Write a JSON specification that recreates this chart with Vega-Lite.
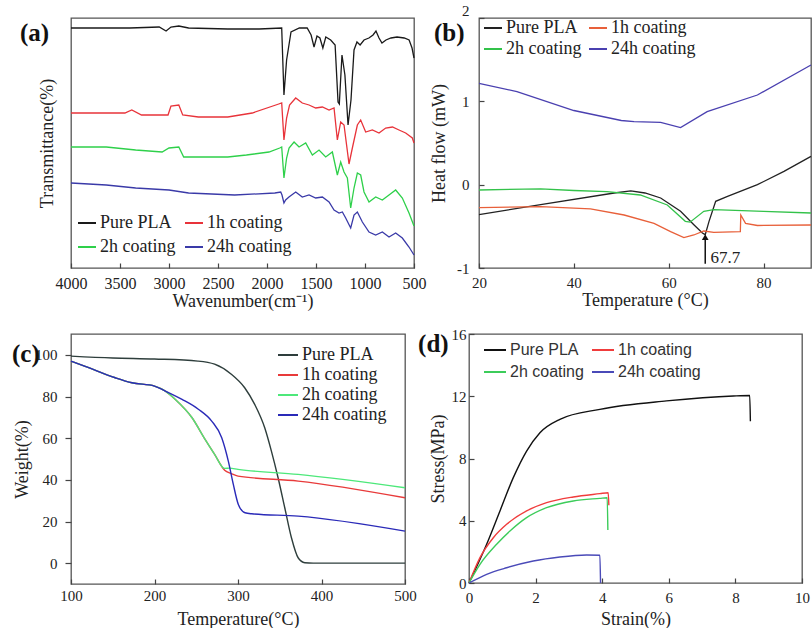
{
"$schema": "https://vega.github.io/schema/vega-lite/v6.json",
"background": "white",
"padding": {"left": 11, "top": 2, "right": 2, "bottom": 2},
"config": {
  "view": {"stroke": "#555555", "strokeWidth": 1.3},
  "font": "Liberation Serif",
  "axis": {"grid": false, "domain": false, "labelFont": "Liberation Serif", "titleFont": "Liberation Serif", "labelFontSize": 15, "titleFontSize": 18, "titleFontWeight": "normal", "labelColor": "#222222", "titleColor": "#222222", "tickColor": "#444444", "tickWidth": 1.2, "minExtent": 0, "labelFlush": false, "labelOverlap": false},
  "legend": {"symbolType": "stroke", "symbolStrokeWidth": 2, "labelFont": "Liberation Serif", "labelFontSize": 18, "labelColor": "#222222", "labelOffset": 3, "padding": 0, "labelLimit": 0}
},
"datasets": {
  "a": [
    {"s":"Pure PLA","x":4000,"y":240},{"s":"Pure PLA","x":3400,"y":240},{"s":"Pure PLA","x":3100,"y":241},{"s":"Pure PLA","x":3030,"y":237},{"s":"Pure PLA","x":2980,"y":241},{"s":"Pure PLA","x":2900,"y":242},{"s":"Pure PLA","x":2800,"y":240},{"s":"Pure PLA","x":2400,"y":239},{"s":"Pure PLA","x":2080,"y":239},{"s":"Pure PLA","x":1850,"y":240},{"s":"Pure PLA","x":1827,"y":173},{"s":"Pure PLA","x":1800,"y":208},{"s":"Pure PLA","x":1755,"y":236},{"s":"Pure PLA","x":1670,"y":240},{"s":"Pure PLA","x":1590,"y":240},{"s":"Pure PLA","x":1550,"y":233},{"s":"Pure PLA","x":1520,"y":221},{"s":"Pure PLA","x":1490,"y":232},{"s":"Pure PLA","x":1460,"y":230},{"s":"Pure PLA","x":1430,"y":220},{"s":"Pure PLA","x":1400,"y":231},{"s":"Pure PLA","x":1350,"y":228},{"s":"Pure PLA","x":1305,"y":223},{"s":"Pure PLA","x":1275,"y":166},{"s":"Pure PLA","x":1262,"y":164},{"s":"Pure PLA","x":1235,"y":213},{"s":"Pure PLA","x":1205,"y":193},{"s":"Pure PLA","x":1173,"y":143},{"s":"Pure PLA","x":1143,"y":168},{"s":"Pure PLA","x":1112,"y":218},{"s":"Pure PLA","x":1082,"y":226},{"s":"Pure PLA","x":1050,"y":223},{"s":"Pure PLA","x":1010,"y":228},{"s":"Pure PLA","x":960,"y":230},{"s":"Pure PLA","x":918,"y":233},{"s":"Pure PLA","x":888,"y":237},{"s":"Pure PLA","x":857,"y":230},{"s":"Pure PLA","x":827,"y":225},{"s":"Pure PLA","x":786,"y":228},{"s":"Pure PLA","x":735,"y":230},{"s":"Pure PLA","x":673,"y":231},{"s":"Pure PLA","x":600,"y":230},{"s":"Pure PLA","x":550,"y":228},{"s":"Pure PLA","x":520,"y":220},{"s":"Pure PLA","x":500,"y":210},
    {"s":"1h coating","x":4000,"y":155},{"s":"1h coating","x":3450,"y":155},{"s":"1h coating","x":3380,"y":158},{"s":"1h coating","x":3280,"y":153},{"s":"1h coating","x":3010,"y":153},{"s":"1h coating","x":2980,"y":162},{"s":"1h coating","x":2900,"y":163},{"s":"1h coating","x":2860,"y":153},{"s":"1h coating","x":2700,"y":151},{"s":"1h coating","x":2400,"y":151},{"s":"1h coating","x":2150,"y":155},{"s":"1h coating","x":1880,"y":164},{"s":"1h coating","x":1850,"y":165},{"s":"1h coating","x":1827,"y":128},{"s":"1h coating","x":1800,"y":150},{"s":"1h coating","x":1770,"y":163},{"s":"1h coating","x":1707,"y":170},{"s":"1h coating","x":1640,"y":165},{"s":"1h coating","x":1571,"y":163},{"s":"1h coating","x":1503,"y":160},{"s":"1h coating","x":1435,"y":161},{"s":"1h coating","x":1367,"y":158},{"s":"1h coating","x":1316,"y":160},{"s":"1h coating","x":1282,"y":128},{"s":"1h coating","x":1248,"y":146},{"s":"1h coating","x":1214,"y":143},{"s":"1h coating","x":1163,"y":104},{"s":"1h coating","x":1129,"y":120},{"s":"1h coating","x":1078,"y":143},{"s":"1h coating","x":1044,"y":148},{"s":"1h coating","x":993,"y":136},{"s":"1h coating","x":925,"y":138},{"s":"1h coating","x":857,"y":135},{"s":"1h coating","x":789,"y":140},{"s":"1h coating","x":720,"y":141},{"s":"1h coating","x":653,"y":138},{"s":"1h coating","x":585,"y":135},{"s":"1h coating","x":517,"y":130},{"s":"1h coating","x":500,"y":125},
    {"s":"2h coating","x":4000,"y":121},{"s":"2h coating","x":3640,"y":121},{"s":"2h coating","x":3340,"y":118},{"s":"2h coating","x":3070,"y":116},{"s":"2h coating","x":3000,"y":120},{"s":"2h coating","x":2900,"y":121},{"s":"2h coating","x":2850,"y":111},{"s":"2h coating","x":2400,"y":111},{"s":"2h coating","x":2210,"y":113},{"s":"2h coating","x":1980,"y":116},{"s":"2h coating","x":1870,"y":120},{"s":"2h coating","x":1850,"y":121},{"s":"2h coating","x":1827,"y":90},{"s":"2h coating","x":1800,"y":110},{"s":"2h coating","x":1775,"y":120},{"s":"2h coating","x":1724,"y":126},{"s":"2h coating","x":1673,"y":121},{"s":"2h coating","x":1605,"y":125},{"s":"2h coating","x":1537,"y":113},{"s":"2h coating","x":1469,"y":118},{"s":"2h coating","x":1401,"y":111},{"s":"2h coating","x":1333,"y":116},{"s":"2h coating","x":1282,"y":93},{"s":"2h coating","x":1248,"y":106},{"s":"2h coating","x":1214,"y":96},{"s":"2h coating","x":1180,"y":90},{"s":"2h coating","x":1146,"y":60},{"s":"2h coating","x":1112,"y":80},{"s":"2h coating","x":1078,"y":95},{"s":"2h coating","x":1044,"y":93},{"s":"2h coating","x":1010,"y":76},{"s":"2h coating","x":959,"y":66},{"s":"2h coating","x":891,"y":71},{"s":"2h coating","x":823,"y":68},{"s":"2h coating","x":755,"y":73},{"s":"2h coating","x":687,"y":78},{"s":"2h coating","x":619,"y":70},{"s":"2h coating","x":551,"y":55},{"s":"2h coating","x":500,"y":42},
    {"s":"24h coating","x":4000,"y":85},{"s":"24h coating","x":3640,"y":83},{"s":"24h coating","x":3340,"y":80},{"s":"24h coating","x":3000,"y":78},{"s":"24h coating","x":2800,"y":75},{"s":"24h coating","x":2330,"y":73},{"s":"24h coating","x":1920,"y":75},{"s":"24h coating","x":1860,"y":76},{"s":"24h coating","x":1847,"y":73},{"s":"24h coating","x":1827,"y":65},{"s":"24h coating","x":1810,"y":68},{"s":"24h coating","x":1776,"y":71},{"s":"24h coating","x":1707,"y":76},{"s":"24h coating","x":1640,"y":71},{"s":"24h coating","x":1571,"y":73},{"s":"24h coating","x":1503,"y":70},{"s":"24h coating","x":1435,"y":71},{"s":"24h coating","x":1367,"y":66},{"s":"24h coating","x":1316,"y":58},{"s":"24h coating","x":1265,"y":55},{"s":"24h coating","x":1231,"y":56},{"s":"24h coating","x":1197,"y":50},{"s":"24h coating","x":1146,"y":40},{"s":"24h coating","x":1112,"y":53},{"s":"24h coating","x":1078,"y":56},{"s":"24h coating","x":1027,"y":46},{"s":"24h coating","x":959,"y":36},{"s":"24h coating","x":891,"y":33},{"s":"24h coating","x":823,"y":36},{"s":"24h coating","x":755,"y":31},{"s":"24h coating","x":687,"y":35},{"s":"24h coating","x":619,"y":30},{"s":"24h coating","x":551,"y":21},{"s":"24h coating","x":500,"y":13}
  ],
  "b": [
    {"s":"Pure PLA","x":20,"y":-0.36},{"s":"Pure PLA","x":33,"y":-0.24},{"s":"Pure PLA","x":48.5,"y":-0.1},{"s":"Pure PLA","x":52,"y":-0.075},{"s":"Pure PLA","x":55,"y":-0.1},{"s":"Pure PLA","x":58.3,"y":-0.16},{"s":"Pure PLA","x":62.5,"y":-0.32},{"s":"Pure PLA","x":65.3,"y":-0.48},{"s":"Pure PLA","x":67.1,"y":-0.58},{"s":"Pure PLA","x":67.7,"y":-0.6},{"s":"Pure PLA","x":68.5,"y":-0.44},{"s":"Pure PLA","x":69.9,"y":-0.2},{"s":"Pure PLA","x":72.4,"y":-0.14},{"s":"Pure PLA","x":78.7,"y":0.0},{"s":"Pure PLA","x":84.3,"y":0.16},{"s":"Pure PLA","x":90,"y":0.34},
    {"s":"1h coating","x":20,"y":-0.276},{"s":"1h coating","x":33,"y":-0.264},{"s":"1h coating","x":43.5,"y":-0.29},{"s":"1h coating","x":50.6,"y":-0.364},{"s":"1h coating","x":56.9,"y":-0.464},{"s":"1h coating","x":60.4,"y":-0.564},{"s":"1h coating","x":63.2,"y":-0.636},{"s":"1h coating","x":65.3,"y":-0.604},{"s":"1h coating","x":67.4,"y":-0.556},{"s":"1h coating","x":69.5,"y":-0.572},{"s":"1h coating","x":75.1,"y":-0.564},{"s":"1h coating","x":75.2,"y":-0.364},{"s":"1h coating","x":76.2,"y":-0.464},{"s":"1h coating","x":78.7,"y":-0.49},{"s":"1h coating","x":90,"y":-0.484},
    {"s":"2h coating","x":20,"y":-0.064},{"s":"2h coating","x":33,"y":-0.05},{"s":"2h coating","x":40,"y":-0.07},{"s":"2h coating","x":47,"y":-0.084},{"s":"2h coating","x":54,"y":-0.124},{"s":"2h coating","x":59.7,"y":-0.244},{"s":"2h coating","x":63.5,"y":-0.44},{"s":"2h coating","x":64.5,"y":-0.45},{"s":"2h coating","x":67.4,"y":-0.32},{"s":"2h coating","x":69.5,"y":-0.3},{"s":"2h coating","x":80,"y":-0.32},{"s":"2h coating","x":90,"y":-0.34},
    {"s":"24h coating","x":20,"y":1.216},{"s":"24h coating","x":28,"y":1.116},{"s":"24h coating","x":40,"y":0.89},{"s":"24h coating","x":50,"y":0.77},{"s":"24h coating","x":52.7,"y":0.756},{"s":"24h coating","x":58.3,"y":0.748},{"s":"24h coating","x":62.5,"y":0.684},{"s":"24h coating","x":68.1,"y":0.876},{"s":"24h coating","x":78.7,"y":1.076},{"s":"24h coating","x":90,"y":1.436}
  ],
  "c": [
    {"s":"Pure PLA","x":100,"y":99.4},{"s":"Pure PLA","x":150,"y":98.5},{"s":"Pure PLA","x":200,"y":98},{"s":"Pure PLA","x":252,"y":97},{"s":"Pure PLA","x":272,"y":95.5},{"s":"Pure PLA","x":292,"y":90.7},{"s":"Pure PLA","x":308,"y":84.2},{"s":"Pure PLA","x":320,"y":76.2},{"s":"Pure PLA","x":332,"y":65},{"s":"Pure PLA","x":340,"y":53.8},{"s":"Pure PLA","x":348,"y":41},{"s":"Pure PLA","x":356,"y":26.6},{"s":"Pure PLA","x":364,"y":12.2},{"s":"Pure PLA","x":372,"y":2.6},{"s":"Pure PLA","x":380,"y":0.2},{"s":"Pure PLA","x":390,"y":0},{"s":"Pure PLA","x":500,"y":0},
    {"s":"1h coating","x":100,"y":97},{"s":"1h coating","x":117,"y":94.5},{"s":"1h coating","x":153,"y":89},{"s":"1h coating","x":173,"y":86.6},{"s":"1h coating","x":200,"y":85},{"s":"1h coating","x":213,"y":82.6},{"s":"1h coating","x":225,"y":78.6},{"s":"1h coating","x":245,"y":69.8},{"s":"1h coating","x":260,"y":59.8},{"s":"1h coating","x":272,"y":52.2},{"s":"1h coating","x":284,"y":44.6},{"s":"1h coating","x":292,"y":43},{"s":"1h coating","x":300,"y":41.8},{"s":"1h coating","x":372,"y":39.4},{"s":"1h coating","x":500,"y":31.4},
    {"s":"2h coating","x":100,"y":97},{"s":"2h coating","x":117,"y":94.5},{"s":"2h coating","x":153,"y":89},{"s":"2h coating","x":173,"y":86.6},{"s":"2h coating","x":200,"y":85},{"s":"2h coating","x":213,"y":82.6},{"s":"2h coating","x":225,"y":78.6},{"s":"2h coating","x":245,"y":69.8},{"s":"2h coating","x":260,"y":59.8},{"s":"2h coating","x":272,"y":52.2},{"s":"2h coating","x":284,"y":45.5},{"s":"2h coating","x":290,"y":45.6},{"s":"2h coating","x":300,"y":45},{"s":"2h coating","x":372,"y":42.6},{"s":"2h coating","x":500,"y":36.2},
    {"s":"24h coating","x":100,"y":97},{"s":"24h coating","x":117,"y":94.5},{"s":"24h coating","x":153,"y":89},{"s":"24h coating","x":173,"y":86.6},{"s":"24h coating","x":200,"y":85},{"s":"24h coating","x":213,"y":82.6},{"s":"24h coating","x":233,"y":78.6},{"s":"24h coating","x":252.5,"y":73.9},{"s":"24h coating","x":268.5,"y":68.2},{"s":"24h coating","x":280.5,"y":60.2},{"s":"24h coating","x":288.4,"y":49},{"s":"24h coating","x":294.4,"y":37.8},{"s":"24h coating","x":300.4,"y":28.2},{"s":"24h coating","x":308.4,"y":24.2},{"s":"24h coating","x":316.4,"y":23.7},{"s":"24h coating","x":372,"y":22.6},{"s":"24h coating","x":500,"y":15.4}
  ],
  "d": [
    {"s":"Pure PLA","x":0,"y":0},{"s":"Pure PLA","x":0.53,"y":2.49},{"s":"Pure PLA","x":0.93,"y":4.63},{"s":"Pure PLA","x":1.33,"y":6.77},{"s":"Pure PLA","x":1.73,"y":8.48},{"s":"Pure PLA","x":2.13,"y":9.66},{"s":"Pure PLA","x":2.73,"y":10.52},{"s":"Pure PLA","x":3.93,"y":11.16},{"s":"Pure PLA","x":5.93,"y":11.7},{"s":"Pure PLA","x":7.94,"y":12.02},{"s":"Pure PLA","x":8.43,"y":12.05},{"s":"Pure PLA","x":8.45,"y":10.4},
    {"s":"1h coating","x":0,"y":0},{"s":"1h coating","x":0.33,"y":1.63},{"s":"1h coating","x":0.73,"y":2.91},{"s":"1h coating","x":1.13,"y":3.77},{"s":"1h coating","x":1.73,"y":4.63},{"s":"1h coating","x":2.33,"y":5.16},{"s":"1h coating","x":3.13,"y":5.53},{"s":"1h coating","x":3.93,"y":5.74},{"s":"1h coating","x":4.18,"y":5.8},{"s":"1h coating","x":4.2,"y":5.0},
    {"s":"2h coating","x":0,"y":0},{"s":"2h coating","x":0.33,"y":1.2},{"s":"2h coating","x":0.83,"y":2.49},{"s":"2h coating","x":1.23,"y":3.34},{"s":"2h coating","x":1.73,"y":4.2},{"s":"2h coating","x":2.33,"y":4.84},{"s":"2h coating","x":3.13,"y":5.27},{"s":"2h coating","x":3.93,"y":5.44},{"s":"2h coating","x":4.15,"y":5.48},{"s":"2h coating","x":4.17,"y":3.4},
    {"s":"24h coating","x":0,"y":0},{"s":"24h coating","x":0.53,"y":0.56},{"s":"24h coating","x":1.13,"y":0.98},{"s":"24h coating","x":1.93,"y":1.41},{"s":"24h coating","x":2.73,"y":1.67},{"s":"24h coating","x":3.53,"y":1.8},{"s":"24h coating","x":3.93,"y":1.78},{"s":"24h coating","x":3.95,"y":0}
  ]
},
"spacing": 15,
"resolve": {"scale": {"color": "independent"}, "legend": {"color": "independent"}},
"vconcat": [
  {
    "spacing": 65,
    "bounds": "flush",
    "resolve": {"scale": {"color": "independent"}, "legend": {"color": "independent"}},
    "hconcat": [
      {
        "width": 343, "height": 250,
        "view": {"stroke": "#555555", "strokeWidth": 1.3},
        "layer": [
          {
            "data": {"name": "a"},
            "mark": {"type": "line", "strokeWidth": 1.3},
            "encoding": {
              "x": {"field": "x", "type": "quantitative", "scale": {"domain": [500, 4000], "reverse": true, "nice": false, "zero": false},
                    "axis": {"title": "Wavenumber(cm⁻¹)", "values": [4000,3500,3000,2500,2000,1500,1000,500], "format": "d", "labelOverlap": false, "tickSize": -5, "labelPadding": 12, "labelFontSize": 16, "titlePadding": 1, "offset": 0}},
              "y": {"field": "y", "type": "quantitative", "scale": {"domain": [0, 250], "nice": false, "zero": false},
                    "axis": {"title": "Transmittance(%)", "labels": false, "ticks": false, "titlePadding": 15}},
              "color": {"field": "s", "type": "nominal",
                        "scale": {"domain": ["Pure PLA","1h coating","2h coating","24h coating"], "range": ["#1a1a1a","#e8333a","#2ed04a","#3a3aa8"]},
                        "legend": {"title": null, "orient": "none", "legendX": 6, "legendY": 195, "direction": "horizontal", "columns": 2, "symbolSize": 324, "rowPadding": 5, "columnPadding": 5}}
            }
          },
          {
            "data": {"values": [{}]},
            "mark": {"type": "text", "align": "left", "baseline": "middle", "font": "Liberation Serif", "fontWeight": "bold", "fontSize": 25, "color": "#111111"},
            "encoding": {"x": {"datum": 4520}, "y": {"datum": 235}, "text": {"value": "(a)"}}
          }
        ]
      },
      {
        "width": 332, "height": 250,
        "view": {"stroke": "#555555", "strokeWidth": 1.3},
        "layer": [
          {
            "data": {"name": "b"},
            "mark": {"type": "line", "strokeWidth": 1.3},
            "encoding": {
              "x": {"field": "x", "type": "quantitative", "scale": {"domain": [20, 90], "nice": false, "zero": false},
                    "axis": {"title": "Temperature (°C)", "values": [20,40,60,80], "format": "d", "labelOverlap": false, "tickSize": -5, "labelPadding": 12, "titlePadding": 1}},
              "y": {"field": "y", "type": "quantitative", "scale": {"domain": [-1, 2], "nice": false, "zero": false},
                    "axis": {"title": "Heat flow (mW)", "values": [-1,0,1,2], "format": "d", "labelOverlap": false, "tickSize": -5, "labelPadding": 15, "titlePadding": 8, "labelExpr": "replace(datum.label, '−', '-')",
                             "labelOffset": {"condition": {"test": "datum.value == 2", "value": -8}, "value": 0}}},
              "color": {"field": "s", "type": "nominal",
                        "scale": {"domain": ["Pure PLA","1h coating","2h coating","24h coating"], "range": ["#222222","#e8603a","#33c24a","#4a40b0"]},
                        "legend": {"title": null, "orient": "none", "legendX": 4, "legendY": 0, "direction": "horizontal", "columns": 2, "symbolSize": 324, "rowPadding": 2, "columnPadding": 3}}
            }
          },
          {
            "data": {"values": [{"x": 67.7, "y": -0.95, "y2": -0.66}]},
            "mark": {"type": "rule", "color": "#111111", "strokeWidth": 1.5},
            "encoding": {"x": {"field": "x", "type": "quantitative"}, "y": {"field": "y", "type": "quantitative"}, "y2": {"field": "y2"}}
          },
          {
            "data": {"values": [{"x": 67.7, "y": -0.63}]},
            "mark": {"type": "point", "shape": "triangle-up", "filled": true, "size": 45, "color": "#111111", "opacity": 1},
            "encoding": {"x": {"field": "x", "type": "quantitative"}, "y": {"field": "y", "type": "quantitative"}}
          },
          {
            "data": {"values": [{"x": 68.8, "y": -0.88, "t": "67.7"}]},
            "mark": {"type": "text", "align": "left", "baseline": "middle", "font": "Liberation Serif", "fontSize": 17, "color": "#222222"},
            "encoding": {"x": {"field": "x", "type": "quantitative"}, "y": {"field": "y", "type": "quantitative"}, "text": {"field": "t"}}
          },
          {
            "data": {"values": [{}]},
            "mark": {"type": "text", "align": "left", "baseline": "middle", "font": "Liberation Serif", "fontWeight": "bold", "fontSize": 25, "color": "#111111"},
            "encoding": {"x": {"datum": 10.5}, "y": {"datum": 1.82}, "text": {"value": "(b)"}}
          }
        ]
      }
    ]
  },
  {
    "spacing": 64,
    "bounds": "flush",
    "resolve": {"scale": {"color": "independent"}, "legend": {"color": "independent"}},
    "hconcat": [
      {
        "width": 334, "height": 250,
        "view": {"stroke": "#555555", "strokeWidth": 1.3},
        "layer": [
          {
            "data": {"name": "c"},
            "mark": {"type": "line", "strokeWidth": 1.4, "interpolate": "monotone"},
            "encoding": {
              "x": {"field": "x", "type": "quantitative", "scale": {"domain": [100, 500], "nice": false, "zero": false},
                    "axis": {"title": "Temperature(°C)", "values": [100,200,300,400,500], "format": "d", "labelOverlap": false, "tickSize": -5, "labelPadding": 9, "titlePadding": 7}},
              "y": {"field": "y", "type": "quantitative", "scale": {"domain": [-10, 110], "nice": false, "zero": false},
                    "axis": {"title": "Weight(%)", "values": [0,20,40,60,80,100], "format": "d", "labelOverlap": false, "tickSize": 6, "labelPadding": 8, "titlePadding": 3}},
              "color": {"field": "s", "type": "nominal",
                        "scale": {"domain": ["Pure PLA","1h coating","2h coating","24h coating"], "range": ["#2e3e3c","#e83a3a","#4de87a","#2a2ab8"]},
                        "legend": {"title": null, "orient": "none", "legendX": 206, "legendY": 10, "direction": "vertical", "symbolSize": 400, "rowPadding": 0}}
            }
          },
          {
            "data": {"values": [{}]},
            "mark": {"type": "text", "align": "left", "baseline": "middle", "font": "Liberation Serif", "fontWeight": "bold", "fontSize": 25, "color": "#111111"},
            "encoding": {"x": {"datum": 29.3}, "y": {"datum": 100.4}, "text": {"value": "(c)"}}
          }
        ]
      },
      {
        "width": 333, "height": 249,
        "view": {"stroke": "#555555", "strokeWidth": 1.3},
        "layer": [
          {
            "data": {"name": "d"},
            "mark": {"type": "line", "strokeWidth": 1.4, "interpolate": "monotone"},
            "encoding": {
              "x": {"field": "x", "type": "quantitative", "scale": {"domain": [0, 10], "nice": false, "zero": false},
                    "axis": {"title": "Strain(%)", "values": [0,2,4,6,8,10], "format": "d", "labelOverlap": false, "tickSize": -5, "labelPadding": 12, "titlePadding": 5}},
              "y": {"field": "y", "type": "quantitative", "scale": {"domain": [0, 16], "nice": false, "zero": false},
                    "axis": {"title": "Stress(MPa)", "values": [0,2,4,6,8,10,12,14,16], "format": "d", "labelOverlap": false, "tickSize": -5, "labelPadding": 8, "titlePadding": 4}},
              "color": {"field": "s", "type": "nominal",
                        "scale": {"domain": ["Pure PLA","1h coating","2h coating","24h coating"], "range": ["#111111","#f03c3c","#3ccc5a","#4a4ab8"]},
                        "legend": {"title": null, "orient": "none", "legendX": 14, "legendY": 4, "direction": "horizontal", "columns": 2, "symbolSize": 484, "rowPadding": 2, "columnPadding": 4, "labelFont": "Liberation Sans", "labelFontSize": 16, "labelColor": "#333333"}}
            }
          },
          {
            "data": {"values": [{}]},
            "mark": {"type": "text", "align": "left", "baseline": "middle", "font": "Liberation Serif", "fontWeight": "bold", "fontSize": 25, "color": "#111111"},
            "encoding": {"x": {"datum": -1.53}, "y": {"datum": 15.36}, "text": {"value": "(d)"}}
          }
        ]
      }
    ]
  }
]
}
